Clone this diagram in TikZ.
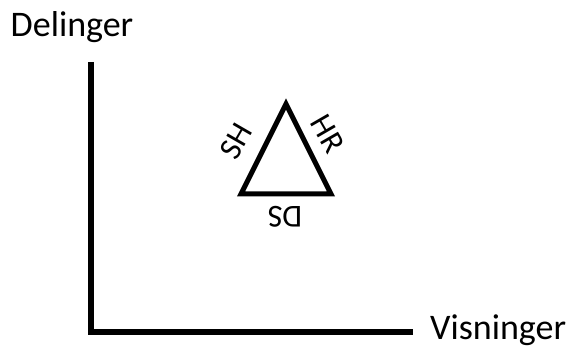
\documentclass[tikz,border=0pt]{standalone}
\usepackage{fontspec}
\setmainfont{Carlito}
\begin{document}
\begin{tikzpicture}[x=1pt,y=-1pt,
  axis/.style={line width=5.5pt,line join=miter},
  tri/.style={line width=5pt,line join=miter},
  lbl/.style={font=\fontsize{36}{42}\selectfont,inner sep=0pt},
  slbl/.style={font=\fontsize{32}{36}\selectfont,inner sep=0pt}]
\useasboundingbox (0,0) rectangle (571,347);
\coordinate (top) at (91,62);
\coordinate (origin) at (91,332);
\coordinate (right) at (413,332);
\draw[axis] (top) -- (origin) -- (right);
\node[lbl] (ylab) at (72,27) {Delinger};
\node[lbl,anchor=west] (xlab) at (430,330) {Visninger};
\coordinate (A) at (286,104);
\coordinate (B) at (241,194);
\coordinate (C) at (331,194);
\draw[tri] (A) -- (B) -- (C) -- cycle;
\node[slbl,rotate=60] (sh) at (236,141) {SH};
\node[slbl,rotate=-60] (hr) at (328,134) {HR};
\node[slbl,rotate=180] (ds) at (285,217) {DS};
\end{tikzpicture}
\end{document}
